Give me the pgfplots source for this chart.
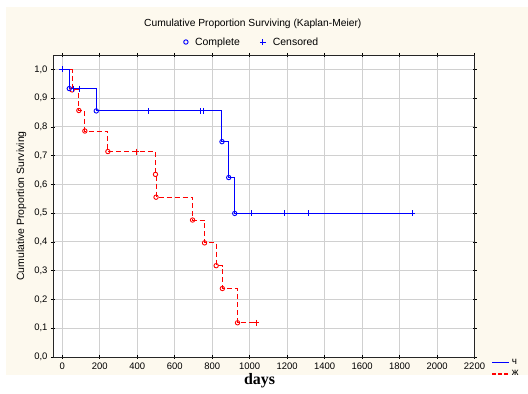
\documentclass[border=0pt]{standalone}
\usepackage{pgfplots}
\pgfplotsset{compat=1.18}
\usepackage{fontspec}
\setmainfont{Liberation Sans}
\newfontfamily\serifbold{Liberation Serif}[BoldFont={Liberation Serif Bold}]
\definecolor{panel}{RGB}{253,249,238}
\definecolor{gridgray}{RGB}{208,208,208}
\definecolor{kmblue}{RGB}{0,0,255}
\definecolor{kmred}{RGB}{255,0,0}

\begin{document}
\begin{tikzpicture}
\useasboundingbox (0,0) rectangle (528bp,394bp);
\fill[panel] (6bp,19bp) rectangle (528bp,387bp);

\begin{axis}[
  at={(53bp,37bp)}, anchor=south west,
  scale only axis, width=421.5bp, height=302bp,
  xmin=-50, xmax=2200, ymin=0, ymax=1.05,
  xtick={0,200,...,2200},
  ytick={0,0.1,...,1.0},
  axis background/.style={fill=white},
  grid=major,
  major grid style={gridgray, line width=1bp},
  axis line style={black!85, line width=0.9bp},
  tick style={black, line width=0.8bp},
  major tick length=4bp,
  tick align=center,
  /pgf/number format/assume math mode=true,
  xticklabel style={font=\fontsize{9.5}{11}\selectfont, /pgf/number format/1000 sep={}},
  yticklabel style={font=\fontsize{9.5}{11}\selectfont,
    /pgf/number format/.cd, fixed, fixed zerofill, precision=1, use comma},
  title={Cumulative Proportion Surviving (Kaplan-Meier)},
  title style={font=\fontsize{10.3}{12}\selectfont, at={(axis description cs:0.474,1.084)}, anchor=center},
  ylabel={Cumulative Proportion Surviving},
  ylabel style={font=\fontsize{10.5}{12}\selectfont, at={(axis description cs:-0.075,0.5)}, anchor=center},
  xlabel={\serifbold\bfseries days},
  xlabel style={font=\fontsize{16}{18}\selectfont, at={(axis description cs:0.49,-0.079)}, anchor=center},
  legend columns=2,
  legend style={draw=none, fill=none, font=\fontsize{10.5}{12}\selectfont,
    at={(axis description cs:0.472,1.043)}, anchor=center,
    /tikz/every odd column/.append style={column sep=5bp},
    /tikz/every even column/.append style={column sep=18bp}},
  legend cell align=left,
]
% legend for the two kinds of observation
\addlegendimage{only marks, mark=o, mark size=2.2bp, draw=kmblue, line width=0.9bp}
\addlegendentry{Complete}
\addlegendimage{only marks, mark=+, mark size=3bp, draw=kmblue, line width=0.9bp}
\addlegendentry{Censored}

% group "zh": step curve, completed and censored cases
\addplot[draw=kmred, line width=1bp, dash pattern=on 5bp off 3bp, const plot, forget plot]
  coordinates {(0,1) (52,0.9286) (88,0.8571) (120,0.7857) (243,0.7143)
    (497,0.6349) (500,0.5556) (695,0.4762) (759,0.3968) (821,0.3175)
    (854,0.2381) (935,0.1190) (1034,0.1190)};
\addplot[draw=kmred, only marks, mark=o, mark size=2.2bp, line width=0.9bp, forget plot]
  coordinates {(52,0.9286) (88,0.8571) (120,0.7857) (243,0.7143)
    (497,0.6349) (500,0.5556) (695,0.4762) (759,0.3968) (821,0.3175)
    (854,0.2381) (935,0.1190)};
\addplot[draw=kmred, only marks, mark=+, mark size=3bp, line width=0.9bp, forget plot]
  coordinates {(393,0.7143) (1034,0.1190)};

% group "ch": step curve, completed and censored cases
\addplot[draw=kmblue, line width=1bp, const plot, forget plot]
  coordinates {(0,1) (37,0.9333) (181,0.8556) (852,0.7487) (888,0.6239)
    (920,0.4991) (1869,0.4991)};
\addplot[draw=kmblue, only marks, mark=o, mark size=2.2bp, line width=0.9bp, forget plot]
  coordinates {(37,0.9333) (181,0.8556) (852,0.7487) (888,0.6239) (920,0.4991)};
\addplot[draw=kmblue, only marks, mark=+, mark size=3bp, line width=0.9bp, forget plot]
  coordinates {(0,1) (60,0.9333) (92,0.9333) (457,0.8556) (737,0.8556)
    (754,0.8556) (1007,0.4991) (1187,0.4991) (1312,0.4991) (1869,0.4991)};
\end{axis}

% group legend
\begin{axis}[
  at={(53bp,37bp)}, anchor=south west,
  scale only axis, width=421.5bp, height=302bp,
  xmin=0, xmax=1, ymin=0, ymax=1, hide axis,
  legend style={draw=none, fill=none, font=\fontsize{10}{12}\selectfont,
    at={(axis description cs:1.037,0.004)}, anchor=north west,
    inner sep=1bp, row sep=1bp},
  legend cell align=left,
]
\addlegendimage{draw=kmblue, line width=1.5bp}
\addlegendentry{ч}
\addlegendimage{draw=kmred, line width=1.5bp, dash pattern=on 4bp off 2bp}
\addlegendentry{ж}
\end{axis}
\fill[white] (430bp,0) rectangle (528bp,19bp);
\end{tikzpicture}
\end{document}
